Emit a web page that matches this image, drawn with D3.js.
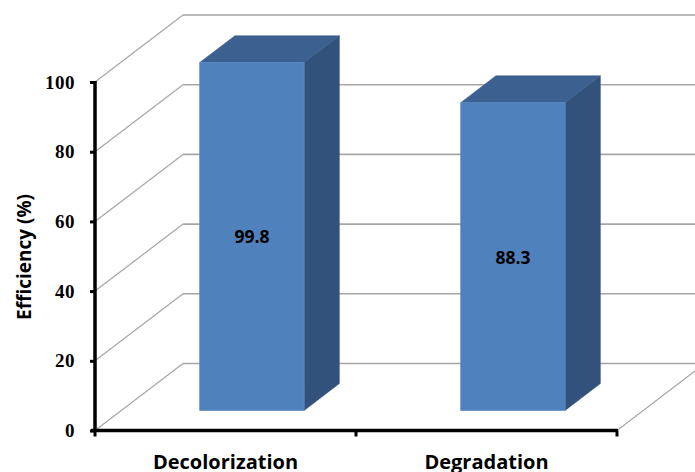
<!DOCTYPE html>
<html>
<head>
<meta charset="utf-8">
<script src="https://cdn.jsdelivr.net/npm/d3@7"></script>
<style>
  html, body { margin: 0; padding: 0; background: #fff; }
  svg { display: block; }
</style>
</head>
<body>
<svg id="chart" width="695" height="472"></svg>
<script>
// Efficiency of the treatment, per process
const categories = ["Decolorization", "Degradation"];
const efficiency = [99.8, 88.3];
const yTicks = [0, 20, 40, 60, 80, 100];
const yTitle = "Efficiency (%)";

const svg = d3.select("#chart");

// Front plane of the 3D box
const plotLeft = 95, plotRight = 617, plotBottom = 430.5, plotTop = 82;
// Full depth of the box, as a screen offset
const depthX = 88, depthY = -67;
// Bars occupy depth 0.3 .. 0.7
const barFront = 0.3, barBack = 0.7;

const y = d3.scaleLinear().domain([0, 100]).range([plotBottom, plotTop]);
const x = d3.scaleBand().domain(categories).range([plotLeft, plotRight])
  .paddingInner(0.6).paddingOuter(0.3);

const proj = (px, py, d) => [px + d * depthX, py + d * depthY];

// Gridlines: left wall diagonals and back wall horizontals
const grid = svg.append("g");
yTicks.forEach(v => {
  const [bx, by] = proj(plotLeft, y(v), 1);
  grid.append("line")
    .attr("x1", plotLeft).attr("y1", y(v)).attr("x2", bx).attr("y2", by)
    .attr("stroke", "#a6a6a6").attr("stroke-width", 1.2);
  grid.append("line")
    .attr("x1", bx).attr("y1", by).attr("x2", plotRight + depthX).attr("y2", by)
    .attr("stroke", "#a6a6a6").attr("stroke-width", 1.6);
});
// Floor right edge
{
  const [bx, by] = proj(plotRight, y(0), 1);
  grid.append("line")
    .attr("x1", plotRight).attr("y1", y(0)).attr("x2", bx).attr("y2", by)
    .attr("stroke", "#a6a6a6").attr("stroke-width", 1.2);
}

// Bars as 3D boxes
const bars = svg.append("g");
const poly = pts => pts.map(p => p.join(",")).join(" ");
categories.forEach((c, i) => {
  const x0 = x(c), x1 = x(c) + x.bandwidth();
  const yv = y(efficiency[i]), y0 = y(0);
  const fTL = proj(x0, yv, barFront), fTR = proj(x1, yv, barFront);
  const fBL = proj(x0, y0, barFront), fBR = proj(x1, y0, barFront);
  const bTL = proj(x0, yv, barBack), bTR = proj(x1, yv, barBack);
  const bBR = proj(x1, y0, barBack);
  // right side
  bars.append("polygon").attr("points", poly([fTR, bTR, bBR, fBR]))
    .attr("fill", "#32527b").attr("stroke", "#2f4e77").attr("stroke-width", 0.6);
  // top
  bars.append("polygon").attr("points", poly([fTL, bTL, bTR, fTR]))
    .attr("fill", "#3c6190").attr("stroke", "#3a5e8c").attr("stroke-width", 0.6);
  // front
  bars.append("polygon").attr("points", poly([fTL, fTR, fBR, fBL]))
    .attr("fill", "#4f81bd").attr("stroke", "#5b8bc4").attr("stroke-width", 0.8);
  // value label centred on the front face
  bars.append("text")
    .attr("x", (fTL[0] + fTR[0]) / 2)
    .attr("y", (fTL[1] + fBL[1]) / 2)
    .attr("text-anchor", "middle").attr("dominant-baseline", "central")
    .attr("font-family", "Open Sans, sans-serif").attr("font-weight", 700)
    .attr("font-size", 17.5).attr("fill", "#000")
    .text(efficiency[i].toFixed(1));
});

// Y axis
const yAxis = d3.axisLeft(y).tickValues(yTicks).tickSize(5).tickPadding(15);
const gy = svg.append("g").attr("transform", `translate(${plotLeft},0)`).call(yAxis);
gy.select(".domain").attr("stroke", "#000").attr("stroke-width", 3.5)
  .attr("d", `M0,${plotTop - 1}V${plotBottom + 1.5}`);
gy.selectAll(".tick line").attr("stroke", "#000").attr("stroke-width", 3);
gy.selectAll(".tick text")
  .attr("font-family", "Liberation Serif, serif").attr("font-weight", 700)
  .attr("font-size", 19).attr("fill", "#000").attr("letter-spacing", 0.5);

// X axis: labels at band centres, ticks at band boundaries
const gx = svg.append("g").attr("transform", `translate(0,${plotBottom})`);
gx.append("line").attr("x1", plotLeft - 4).attr("x2", plotRight + 1)
  .attr("stroke", "#000").attr("stroke-width", 3.5);
const step = (plotRight - plotLeft) / categories.length;
d3.range(categories.length + 1).forEach(i => {
  gx.append("line").attr("x1", plotLeft + i * step).attr("x2", plotLeft + i * step)
    .attr("y1", 0).attr("y2", 6).attr("stroke", "#000").attr("stroke-width", 3);
});
categories.forEach(c => {
  gx.append("text")
    .attr("x", x(c) + x.bandwidth() / 2).attr("y", 38)
    .attr("text-anchor", "middle")
    .attr("font-family", "Open Sans, sans-serif").attr("font-weight", 700)
    .attr("font-size", 20).attr("fill", "#000")
    .text(c);
});

// Y axis title
svg.append("text")
  .attr("transform", `translate(31,257) rotate(-90)`)
  .attr("text-anchor", "middle")
  .attr("font-family", "Open Sans, sans-serif").attr("font-weight", 700)
  .attr("font-size", 19).attr("fill", "#000")
  .text(yTitle);
</script>
</body>
</html>
